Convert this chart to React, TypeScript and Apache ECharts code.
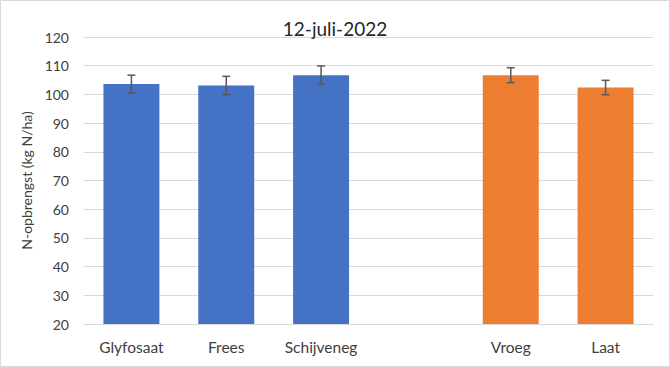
import React, { useEffect, useRef } from "react";
import * as echarts from "echarts";

const categories = ["Glyfosaat", "Frees", "Schijveneg", "", "Vroeg", "Laat"];
const values: (number | null)[] = [103.6, 103.1, 106.7, null, 106.7, 102.4];
const errors: (number | null)[] = [3.1, 3.2, 3.2, null, 2.6, 2.5];
const groupColors = ["#4472C4", "#4472C4", "#4472C4", "#4472C4", "#ED7D31", "#ED7D31"];
const yTicks = { min: 20, max: 120, interval: 10 };
const title = "12-juli-2022";
const yName = "N-opbrengst (kg N/ha)";

const FONT = "Lato, 'Open Sans', sans-serif";

export default function App() {
  const ref = useRef<HTMLDivElement>(null);
  useEffect(() => {
    if (!ref.current) return;
    const chart = echarts.init(ref.current, null, { renderer: "svg" });
    const errData = values.map((v, i) =>
      v == null || errors[i] == null ? [i, null, null] : [i, v - (errors[i] as number), v + (errors[i] as number)]
    );
    chart.setOption({
      animation: false,
      backgroundColor: "#ffffff",
      title: {
        text: title,
        left: "center",
        top: 14,
        textStyle: { fontFamily: FONT, fontSize: 19, fontWeight: "normal", color: "#262626" },
      },
      graphic: [
        {
          type: "rect",
          shape: { x: 0.5, y: 0.5, width: 669, height: 366 },
          style: { fill: "none", stroke: "#d9d9d9", lineWidth: 1 },
          silent: true,
          z: 100,
        },
      ],
      grid: { left: 84, right: 17, top: 37, bottom: 43 },
      xAxis: {
        type: "category",
        data: categories,
        axisLine: { show: true, lineStyle: { color: "#d9d9d9", width: 1 } },
        axisTick: { show: false },
        axisLabel: { color: "#404040", fontFamily: FONT, fontSize: 15.5, margin: 15 },
      },
      yAxis: {
        type: "value",
        min: yTicks.min,
        max: yTicks.max,
        interval: yTicks.interval,
        name: yName,
        nameLocation: "middle",
        nameGap: 48,
        nameTextStyle: { color: "#404040", fontFamily: FONT, fontSize: 14 },
        axisLine: { show: false },
        axisTick: { show: false },
        splitLine: { lineStyle: { color: "#d9d9d9", width: 1 } },
        axisLabel: { color: "#404040", fontFamily: FONT, fontSize: 14, margin: 15 },
      },
      series: [
        {
          type: "bar",
          barWidth: "59%",
          data: values.map((v, i) => ({ value: v, itemStyle: { color: groupColors[i] } })),
        },
        {
          type: "custom",
          data: errData,
          z: 10,
          renderItem: (params: any, api: any) => {
            const lo = api.value(1);
            const hi = api.value(2);
            if (lo == null || hi == null || isNaN(lo)) return null;
            const x = api.value(0);
            const pLo = api.coord([x, lo]);
            const pHi = api.coord([x, hi]);
            const cap = 4;
            const style = { stroke: "#595959", lineWidth: 1.5 };
            return {
              type: "group",
              children: [
                { type: "line", shape: { x1: pLo[0], y1: pLo[1], x2: pHi[0], y2: pHi[1] }, style },
                { type: "line", shape: { x1: pLo[0] - cap, y1: pLo[1], x2: pLo[0] + cap, y2: pLo[1] }, style },
                { type: "line", shape: { x1: pHi[0] - cap, y1: pHi[1], x2: pHi[0] + cap, y2: pHi[1] }, style },
              ],
            };
          },
        },
      ],
    });
    return () => chart.dispose();
  }, []);
  return (
    <div
      ref={ref}
      style={{ position: "absolute", left: 0, top: 0, width: 670, height: 367 }}
    />
  );
}
